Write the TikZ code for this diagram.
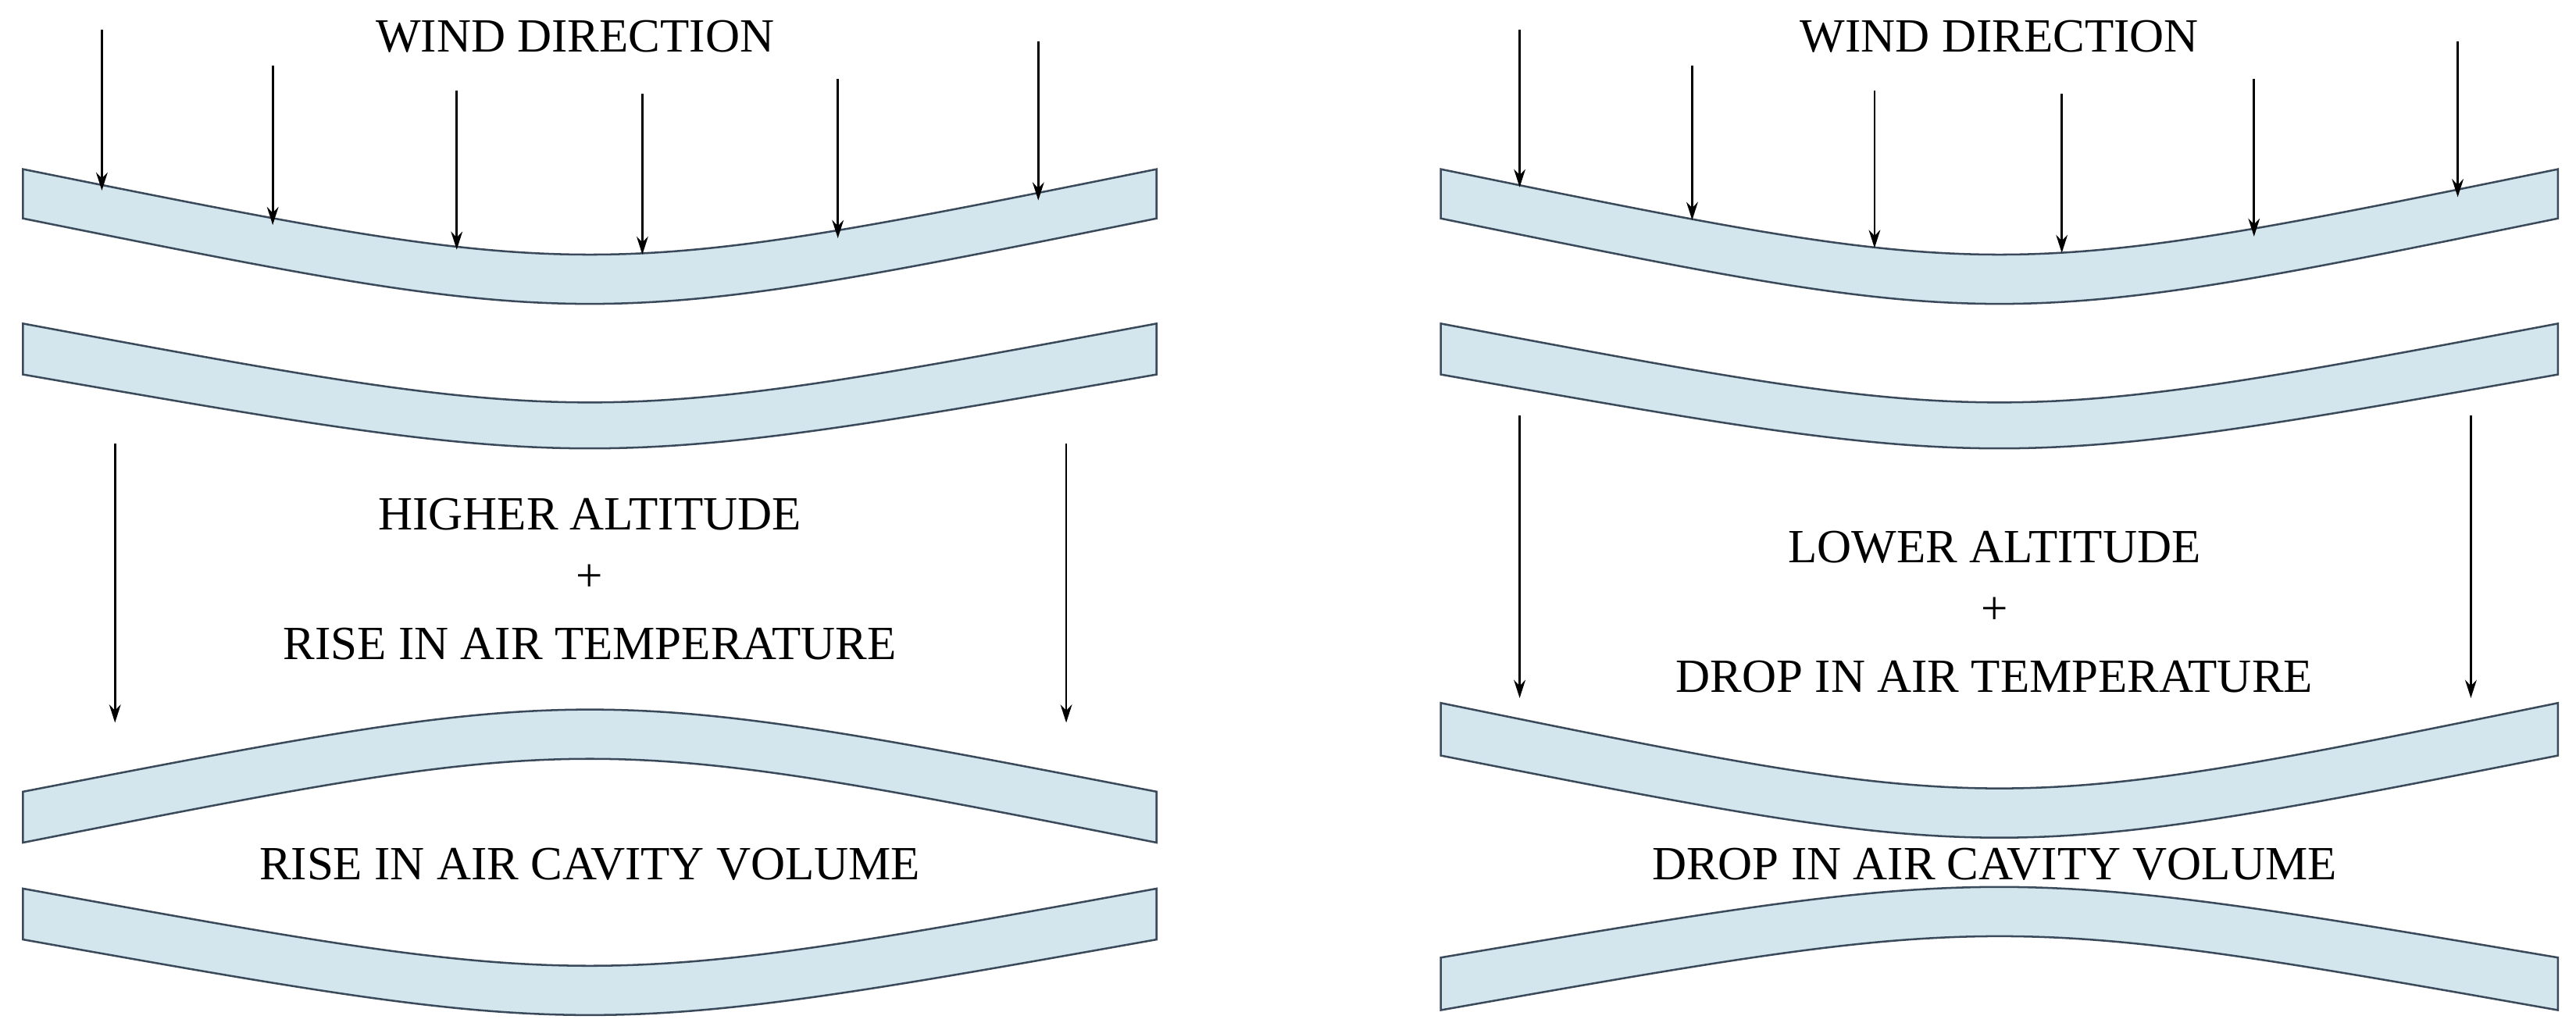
\documentclass[tikz,border=0pt]{standalone}
\usepackage{fontspec}
\setmainfont{Liberation Serif}
\usetikzlibrary{arrows.meta}
\definecolor{pane}{HTML}{D3E6EE}
\definecolor{edge}{HTML}{3A4A5A}
\begin{document}
\begin{tikzpicture}[x=1pt,y=-1pt,
  band/.style={fill=pane,draw=edge,line width=1.2pt},
  arr/.style={-{Stealth[length=11pt,width=7pt]},line width=1.3pt},
  lbl/.style={font=\fontsize{29}{32}\selectfont,inner sep=0pt}]
\useasboundingbox (0,0) rectangle (1568,627);
% band macro: x0,x1,top-end,top-mid,bot-end,bot-mid
\newcommand{\myband}[6]{%
  \pgfmathsetmacro{\cx}{(#1+#2)/2}%
  \pgfmathsetmacro{\ct}{(4*#4-#3)/3}%
  \pgfmathsetmacro{\cb}{(4*#6-#5)/3}%
  \path[band] (#1,#3) .. controls (\cx,\ct) .. (#2,#3) -- (#2,#5) .. controls (\cx,\cb) .. (#1,#5) -- cycle;}
% left
\myband{14}{704}{103}{155}{133}{185}
\myband{14}{704}{197}{245}{228}{273}
\myband{14}{704}{482}{432}{513}{462}
\myband{14}{704}{541}{588}{572}{618}
% right
\myband{877}{1557}{103}{155}{133}{185}
\myband{877}{1557}{197}{245}{228}{273}
\myband{877}{1557}{428}{480}{460}{510}
\myband{877}{1557}{583}{540}{615}{570}
% arrows left
\foreach \x/\a/\b [count=\i] in {62/18/116,166/40/137,278/55/152,391/57/155,510/48/145,632/25/122}{
  \coordinate (la\i) at (\x,\a); \coordinate (lb\i) at (\x,\b); \draw[arr] (la\i) -- (lb\i);}
\coordinate (ls1) at (70,270); \coordinate (le1) at (70,440); \draw[arr] (ls1) -- (le1);
\coordinate (ls2) at (649,270); \coordinate (le2) at (649,440); \draw[arr] (ls2) -- (le2);
\foreach \x/\a/\b [count=\i] in {925/18/114,1030/40/134,1141/55/151,1255/57/154,1372/48/144,1496/25/120}{
  \coordinate (ra\i) at (\x,\a); \coordinate (rb\i) at (\x,\b); \draw[arr] (ra\i) -- (rb\i);}
\coordinate (rs1) at (925,253); \coordinate (re1) at (925,425); \draw[arr] (rs1) -- (re1);
\coordinate (rs2) at (1504,253); \coordinate (re2) at (1504,425); \draw[arr] (rs2) -- (re2);
% text
\node[lbl] (t1) at (350,22) {WIND DIRECTION};
\node[lbl] (t2) at (359,313) {HIGHER ALTITUDE};
\node[lbl] (t3) at (359,352) {+};
\node[lbl] (t4) at (359,392) {RISE IN AIR TEMPERATURE};
\node[lbl] (t5) at (359,526) {RISE IN AIR CAVITY VOLUME};
\node[lbl] (u1) at (1217,22) {WIND DIRECTION};
\node[lbl] (u2) at (1214,333) {LOWER ALTITUDE};
\node[lbl] (u3) at (1214,372) {+};
\node[lbl] (u4) at (1214,412) {DROP IN AIR TEMPERATURE};
\node[lbl] (u5) at (1214,526) {DROP IN AIR CAVITY VOLUME};
\end{tikzpicture}
\end{document}
